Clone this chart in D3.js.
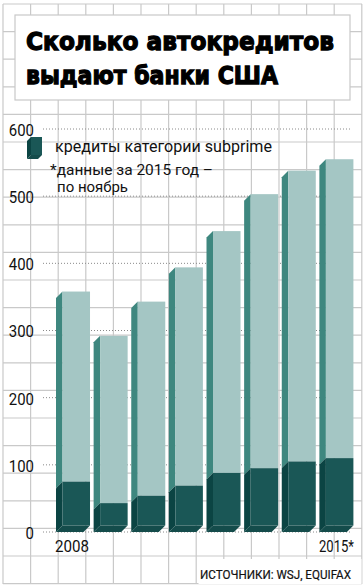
<!DOCTYPE html>
<html>
<head>
<meta charset="utf-8">
<script src="https://cdn.jsdelivr.net/npm/d3@7"></script>
<style>
  body { margin: 0; background: #fff; }
  svg { display: block; }
  text { font-family: Roboto, "Liberation Sans", sans-serif; fill: #111; }
</style>
</head>
<body>
<div id="chart"></div>
<script>
const years = ["2008", "2009", "2010", "2011", "2012", "2013", "2014", "2015"];
const totalLoans = [358, 292, 343, 394, 448, 503, 538, 555];
const subprimeLoans = [75, 43, 54, 69, 88, 95, 105, 110];
const yTicks = [0, 100, 200, 300, 400, 500, 600];
const xLabels = ["2008", "2015*"];

const width = 364;
const height = 587;
const depth = 6.5;
const colors = {
  lightFront: "#a4c6c4",
  lightSide: "#3e877f",
  darkFront: "#1a5756",
  darkSide: "#0b4443",
  bottom: "#144c4b",
  grid: "#c9c9c9"
};

const svg = d3
  .select("#chart")
  .append("svg")
  .attr("width", width)
  .attr("height", height);

// background grid
const cell = 27.6;
const grid = svg.append("g").attr("stroke", colors.grid).attr("stroke-width", 1.2);
grid
  .selectAll("line.v")
  .data(d3.range(14))
  .join("line")
  .attr("x1", (d) => 3 + d * cell)
  .attr("x2", (d) => 3 + d * cell)
  .attr("y1", 4)
  .attr("y2", 584);
grid
  .selectAll("line.h")
  .data(d3.range(22))
  .join("line")
  .attr("y1", (d) => 4 + d * cell)
  .attr("y2", (d) => 4 + d * cell)
  .attr("x1", 3)
  .attr("x2", 362);

// title box
svg.append("rect")
  .attr("x", 15).attr("y", 15)
  .attr("width", 335).attr("height", 85)
  .attr("fill", "#fff")
  .attr("stroke", colors.grid)
  .attr("stroke-width", 1.2);

const titleLines = ["Сколько автокредитов", "выдают банки США"];
const titleWidths = [308, 252];
svg.selectAll("text.title")
  .data(titleLines)
  .join("text")
  .attr("class", "title")
  .attr("x", 26)
  .attr("y", (d, i) => 50 + i * 34)
  .attr("textLength", (d, i) => titleWidths[i])
  .attr("lengthAdjust", "spacingAndGlyphs")
  .style("font-family", "'DejaVu Sans', sans-serif")
  .style("font-weight", "bold")
  .style("font-size", "25px")
  .style("fill", "#000")
  .style("stroke", "#000")
  .style("stroke-width", 1.3)
  .text((d) => d);

// source box
svg.append("rect")
  .attr("x", 198.5).attr("y", 559)
  .attr("width", 163).attr("height", 25)
  .attr("fill", "#fff");
svg.append("text")
  .attr("x", 200)
  .attr("y", 579)
  .attr("textLength", 151)
  .attr("lengthAdjust", "spacingAndGlyphs")
  .style("font-size", "12px")
  .style("stroke", "#111")
  .style("stroke-width", 0.2)
  .text("ИСТОЧНИКИ: WSJ, EQUIFAX");

// scales
const y = d3.scaleLinear().domain([0, 600]).range([532, 129]);
const x = d3
  .scaleBand()
  .domain(years)
  .range([56, 353.4])
  .paddingInner(0.096)
  .paddingOuter(0);

// dotted value lines
svg.append("g")
  .selectAll("line")
  .data(yTicks)
  .join("line")
  .attr("x1", 43)
  .attr("x2", 350)
  .attr("y1", (d) => y(d))
  .attr("y2", (d) => y(d))
  .attr("stroke", "#8a8a8a")
  .attr("stroke-width", 1)
  .attr("stroke-dasharray", "1,2");

const yAxis = d3.axisLeft(y).tickValues(yTicks).tickSize(0).tickPadding(0);
svg.append("g")
  .attr("transform", "translate(34,0)")
  .call(yAxis)
  .call((g) => g.select(".domain").remove())
  .selectAll("text")
  .attr("dy", "0.4em")
  .style("font-family", "Roboto, sans-serif")
  .style("font-size", "16px")
  .style("fill", "#111")
  .attr("textLength", (d) => String(d).length * 8.4)
  .attr("lengthAdjust", "spacingAndGlyphs");

// 3D box: front face, left side face, bottom face
function drawBox(g, x0, x1, top, bottom, d, front, side, withBottom) {
  g.append("polygon")
    .attr("points", [[x0, top], [x0 - d, top + d], [x0 - d, bottom + d], [x0, bottom]].join(" "))
    .attr("fill", side);
  g.append("rect")
    .attr("x", x0).attr("y", top)
    .attr("width", x1 - x0).attr("height", Math.max(0, bottom - top))
    .attr("fill", front);
  if (withBottom) {
    g.append("polygon")
      .attr("points", [[x0, bottom], [x1, bottom], [x1 - d, bottom + d], [x0 - d, bottom + d]].join(" "))
      .attr("fill", colors.bottom);
  }
}

const bars = svg.append("g");
years.forEach((yr, i) => {
  const g = bars.append("g");
  const x0 = x(yr) + depth;
  const x1 = x(yr) + x.bandwidth();
  const base = y(0) - depth;
  drawBox(g, x0, x1, y(totalLoans[i]), y(subprimeLoans[i]), depth, colors.lightFront, colors.lightSide, false);
  drawBox(g, x0, x1, y(subprimeLoans[i]), base, depth, colors.darkFront, colors.darkSide, true);
});

// x labels
svg.append("text")
  .attr("x", 55).attr("y", 552)
  .attr("textLength", 34).attr("lengthAdjust", "spacingAndGlyphs")
  .style("font-size", "16px")
  .text(xLabels[0]);
svg.append("text")
  .attr("x", 319).attr("y", 552)
  .attr("textLength", 35).attr("lengthAdjust", "spacingAndGlyphs")
  .style("font-size", "16px")
  .text(xLabels[1]);

// legend
const legend = svg.append("g");
drawBox(legend, 31, 42, 137, 155, 4, colors.darkFront, colors.darkSide, true);
legend.append("text")
  .attr("x", 55).attr("y", 152)
  .attr("textLength", 217).attr("lengthAdjust", "spacingAndGlyphs")
  .style("font-size", "16px")
  .text("кредиты категории subprime");
legend.append("text")
  .attr("x", 50).attr("y", 175)
  .attr("textLength", 163).attr("lengthAdjust", "spacingAndGlyphs")
  .style("font-size", "15px")
  .text("*данные за 2015 год –");
legend.append("text")
  .attr("x", 57).attr("y", 192)
  .attr("textLength", 71).attr("lengthAdjust", "spacingAndGlyphs")
  .style("font-size", "15px")
  .text("по ноябрь");
</script>
</body>
</html>
